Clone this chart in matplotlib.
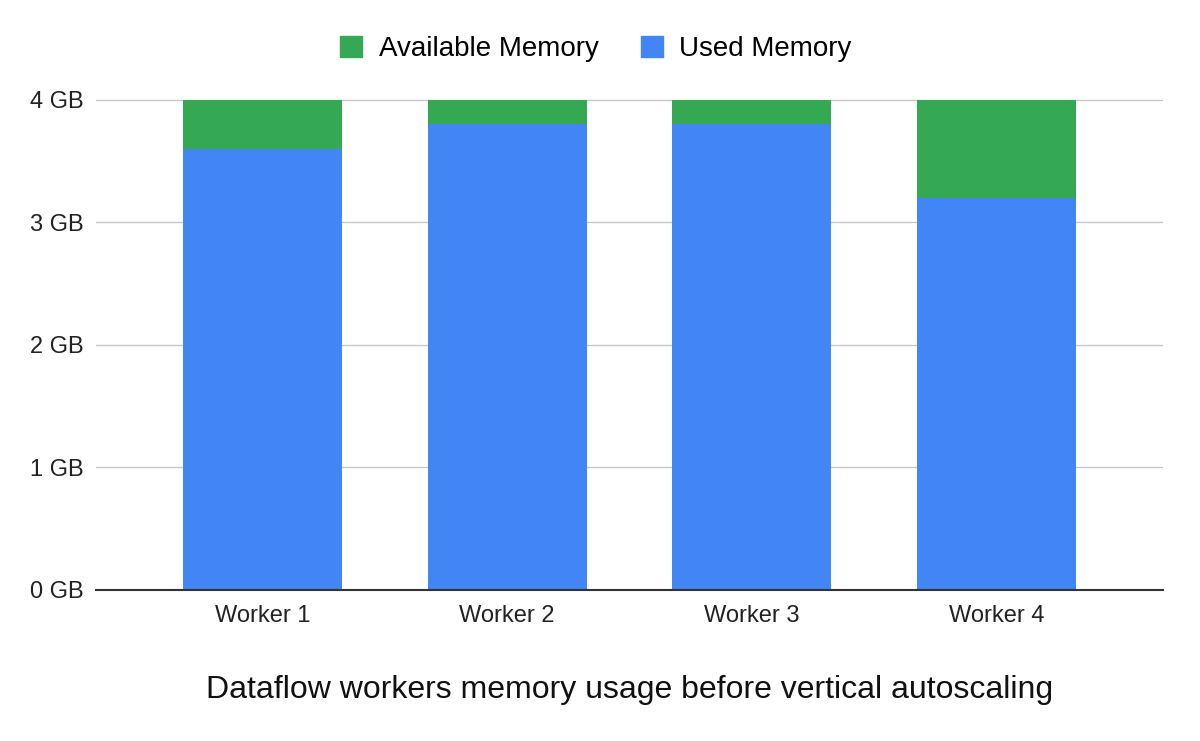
import matplotlib.pyplot as plt
from matplotlib.patches import Patch

plt.rcParams['font.family'] = ['Liberation Sans', 'DejaVu Sans']

workers = ['Worker 1', 'Worker 2', 'Worker 3', 'Worker 4']
used_mem = [3.6, 3.8, 3.8, 3.2]
avail_mem = [0.4, 0.2, 0.2, 0.8]
yticks = [0, 1, 2, 3, 4]
ytick_labels = ['0 GB', '1 GB', '2 GB', '3 GB', '4 GB']

green = '#34A853'
blue = '#4285F4'

fig = plt.figure(figsize=(12, 7.41), dpi=100)
ax = fig.add_axes([0.08, 0.2038, 0.889, 0.665])

x = range(len(workers))
ax.bar(x, used_mem, width=0.65, color=blue, zorder=2)
ax.bar(x, avail_mem, bottom=used_mem, width=0.65, color=green, zorder=2)

ax.set_xlim(-0.68, 3.68)
ax.set_ylim(0, 4.02)
ax.set_yticks(yticks)
ax.set_yticklabels(ytick_labels)
ax.set_xticks(list(x))
ax.set_xticklabels(workers)
ax.tick_params(axis='both', length=0, labelsize=17, colors='#222222')
ax.tick_params(axis='y', pad=9)
ax.tick_params(axis='x', pad=11)

for y in yticks[1:]:
    ax.axhline(y, color='#c8c8c8', lw=1, zorder=1)
for s in ['top', 'right', 'left']:
    ax.spines[s].set_visible(False)
ax.spines['bottom'].set_color('#333333')
ax.spines['bottom'].set_linewidth(1.5)

handles = [Patch(color=green, label='Available Memory'), Patch(color=blue, label='Used Memory')]
fig.legend(handles=handles, loc='center', bbox_to_anchor=(596 / 1200, 1 - 49 / 741),
           ncol=2, frameon=False, fontsize=20, handlelength=0.8, handleheight=0.8,
           handletextpad=0.6, columnspacing=1.5)

fig.text(629.5 / 1200, 1 - 690 / 741, 'Dataflow workers memory usage before vertical autoscaling',
         ha='center', va='center', fontsize=23, color='#111111')

fig.savefig('out.png', dpi=100)
